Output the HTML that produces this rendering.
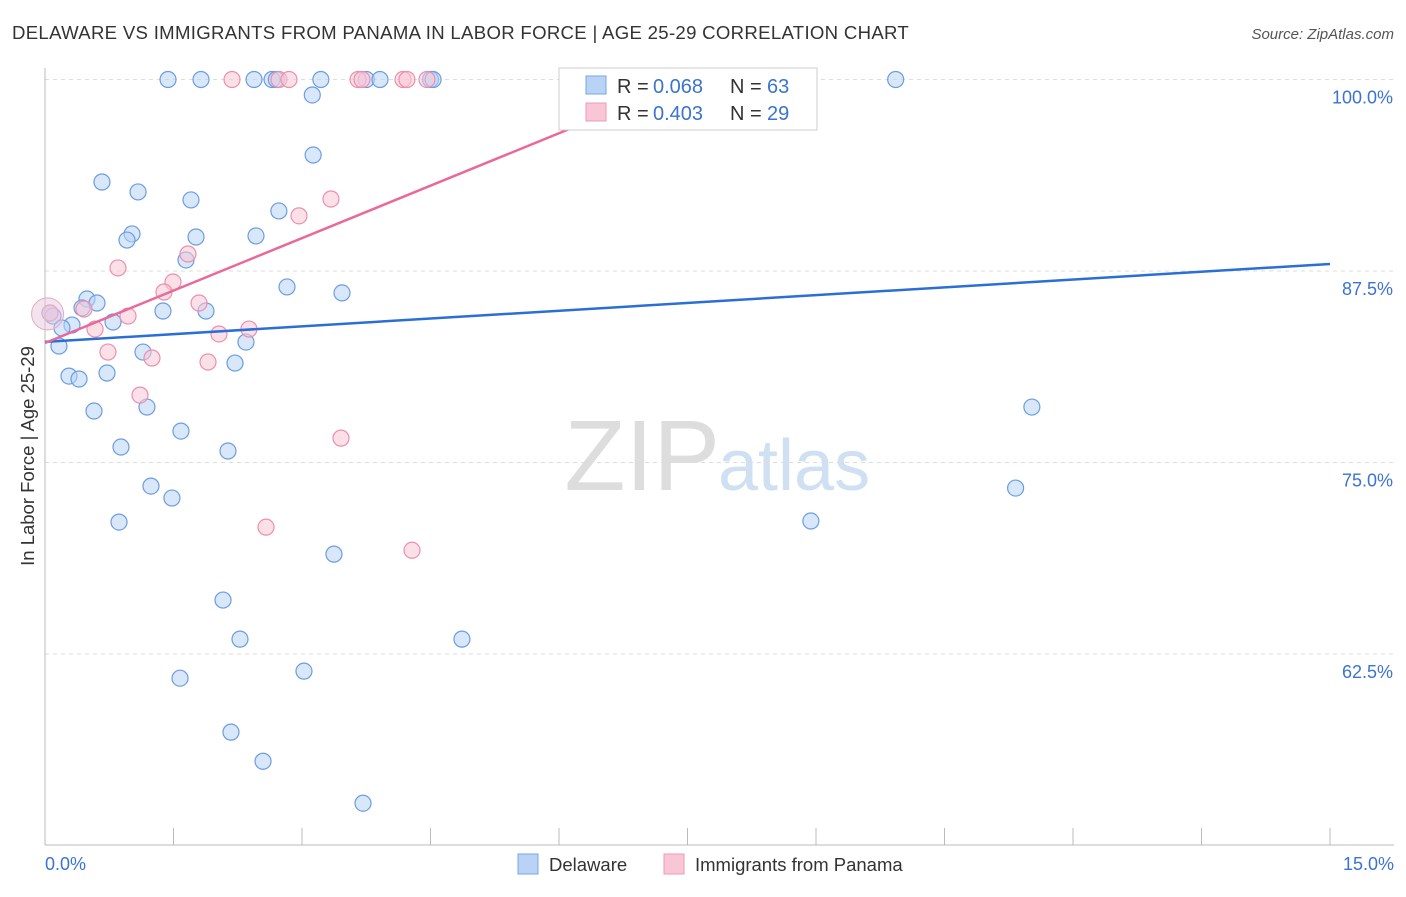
<!DOCTYPE html>
<html><head><meta charset="utf-8"><style>
body{margin:0;background:#fff;font-family:"Liberation Sans",sans-serif;}
svg text{font-family:"Liberation Sans",sans-serif;}
</style></head><body>
<svg id="chart" width="1406" height="892">
<text x="12" y="39" font-size="18.6" letter-spacing="0.3" fill="#333">DELAWARE VS IMMIGRANTS FROM PANAMA IN LABOR FORCE | AGE 25-29 CORRELATION CHART</text>
<text x="1394" y="39" font-size="15" fill="#555" font-style="italic" text-anchor="end">Source: ZipAtlas.com</text>
<text x="720" y="490" font-size="100" fill="#ddd" text-anchor="end" font-family="Liberation Serif,serif">ZIP</text>
<text x="718" y="490" font-size="72" fill="#cfe0f3">atlas</text>
<g id="grid"></g><g id="axes"></g><g id="marks"></g>
<text transform="translate(34,456) rotate(-90)" font-size="18.5" fill="#333" text-anchor="middle">In Labor Force | Age 25-29</text>
<text x="45" y="870" font-size="18" fill="#3b73d1">0.0%</text>
<text x="1394" y="870" font-size="18" fill="#3b73d1" text-anchor="end">15.0%</text>
<g>
<rect x="559" y="68" width="258" height="62" fill="#fff" stroke="#ccc"/>
<rect x="586" y="76" width="20" height="18" fill="#b8d3f5" stroke="#7aa7e0"/>
<rect x="586" y="103" width="20" height="18" fill="#f9c6d6" stroke="#ee9ab6"/>
<text x="617" y="93" font-size="20" fill="#333">R =</text>
<text x="653" y="93" font-size="20" fill="#3b73d1">0.068</text>
<text x="730" y="93" font-size="20" fill="#333">N =</text>
<text x="767" y="93" font-size="20" fill="#3b73d1">63</text>
<text x="617" y="120" font-size="20" fill="#333">R =</text>
<text x="653" y="120" font-size="20" fill="#3b73d1">0.403</text>
<text x="730" y="120" font-size="20" fill="#333">N =</text>
<text x="767" y="120" font-size="20" fill="#3b73d1">29</text>
</g>
<g>
<rect x="518" y="854" width="20" height="20" fill="#b8d3f5" stroke="#7aa7e0"/>
<text x="549" y="871" font-size="18.5" fill="#333">Delaware</text>
<rect x="664" y="854" width="20" height="20" fill="#f9c6d6" stroke="#ee9ab6"/>
<text x="695" y="871" font-size="18.5" fill="#333">Immigrants from Panama</text>
</g>
</svg>
<script>
const yTicks=[100,87.5,75,62.5];
const yTickLabels=["100.0%","87.5%","75.0%","62.5%"];
const blueX=[1.436,1.821,2.44,2.65,2.70,3.22,3.75,3.91,4.50,4.53,9.93,3.12,3.13,0.665,1.086,1.704,2.73,1.016,0.957,1.763,2.463,1.646,2.825,3.467,0.49,0.607,0.432,1.377,1.879,0.058,0.093,0.794,0.315,0.198,2.346,0.163,1.144,2.218,0.724,0.28,0.397,1.19,0.572,11.52,1.587,0.887,2.136,1.237,1.482,11.33,0.864,8.94,3.373,2.078,2.276,4.867,3.023,1.576,2.171,2.545,3.712];
const blueY=[100,100,100,100,100,100,100,100,100,100,100,98.99,95.07,93.31,92.66,92.14,91.42,89.92,89.52,89.72,89.79,88.22,86.46,86.07,85.67,85.41,85.09,84.89,84.89,84.76,84.56,84.17,83.97,83.78,82.86,82.60,82.21,81.49,80.84,80.64,80.45,78.62,78.36,78.62,77.05,76.01,75.75,73.46,72.68,73.33,71.11,71.18,69.02,66.02,63.47,63.47,61.38,60.92,57.40,55.50,52.76];
const pinkX=[2.183,2.731,2.848,3.654,3.70,4.179,4.225,4.459,7.54,3.338,2.965,1.669,0.852,1.494,1.389,1.798,0.455,0.058,0.969,2.381,0.584,2.031,0.735,1.249,1.903,1.109,3.455,2.58,4.284];
const pinkY=[100,100,100,100,100,100,100,100,100,92.2,91.1,88.61,87.70,86.78,86.13,85.41,85.02,84.76,84.56,83.71,83.71,83.39,82.21,81.82,81.56,79.40,76.59,70.78,69.27];
const blueTrend=[[0,82.87],[15,87.96]];
const pinkTrend=[[0,82.8],[7.8,100.6]];
const NS="http://www.w3.org/2000/svg";
const X=v=>45+v/15*1285;
const Y=v=>79.5+(100-v)/12.5*191.5;
function mk(t,a,p){const e=document.createElementNS(NS,t);for(const k in a)e.setAttribute(k,a[k]);p.appendChild(e);return e;}
const grid=document.getElementById('grid'),axes=document.getElementById('axes'),marks=document.getElementById('marks');
yTicks.forEach((t,i)=>{
 const l=mk('line',{x1:45,x2:1394,y1:Y(t),y2:Y(t),stroke:'#ddd','stroke-dasharray':'4,4'},grid);
 
 
 const tx=mk('text',{x:1393,y:Y(t)+24,'font-size':18,fill:'#3b73d1','text-anchor':'end'},grid);
 tx.textContent=yTickLabels[i];
 
 
});
const ya=mk('line',{x1:45,x2:45,y1:68,y2:845,stroke:'#bbb'},axes);


const xa=mk('line',{x1:45,x2:1394,y1:845,y2:845,stroke:'#bbb'},axes);


for(let i=0;i<=10;i++){const v=i*1.5;
 const t=mk('line',{x1:X(v),x2:X(v),y1:828,y2:845,stroke:'#bbb'},axes);
 
 }
function dots(xs,ys,fill,stroke,name){xs.forEach((x,i)=>{
 const c=mk('circle',{cx:X(x),cy:Y(ys[i]),r:8,fill:fill,'fill-opacity':0.55,stroke:stroke,'stroke-width':1.2},marks);
 
 });}
dots(blueX,blueY,'#b8d3f5','#6b9de0','delaware-point');
dots(pinkX,pinkY,'#f9c6d6','#ec8fae','panama-point');
const big=mk('circle',{cx:X(0.03),cy:Y(84.7),r:16,fill:'#e6c8e0','fill-opacity':0.5,stroke:'#e7a9c2'},marks);


const bl=mk('line',{x1:X(blueTrend[0][0]),y1:Y(blueTrend[0][1]),x2:X(blueTrend[1][0]),y2:Y(blueTrend[1][1]),stroke:'#2a6fd6','stroke-width':2.5},marks);


const pl=mk('line',{x1:X(pinkTrend[0][0]),y1:Y(pinkTrend[0][1]),x2:X(pinkTrend[1][0]),y2:Y(pinkTrend[1][1]),stroke:'#e8699a','stroke-width':2.5},marks);


</script>
</body></html>
